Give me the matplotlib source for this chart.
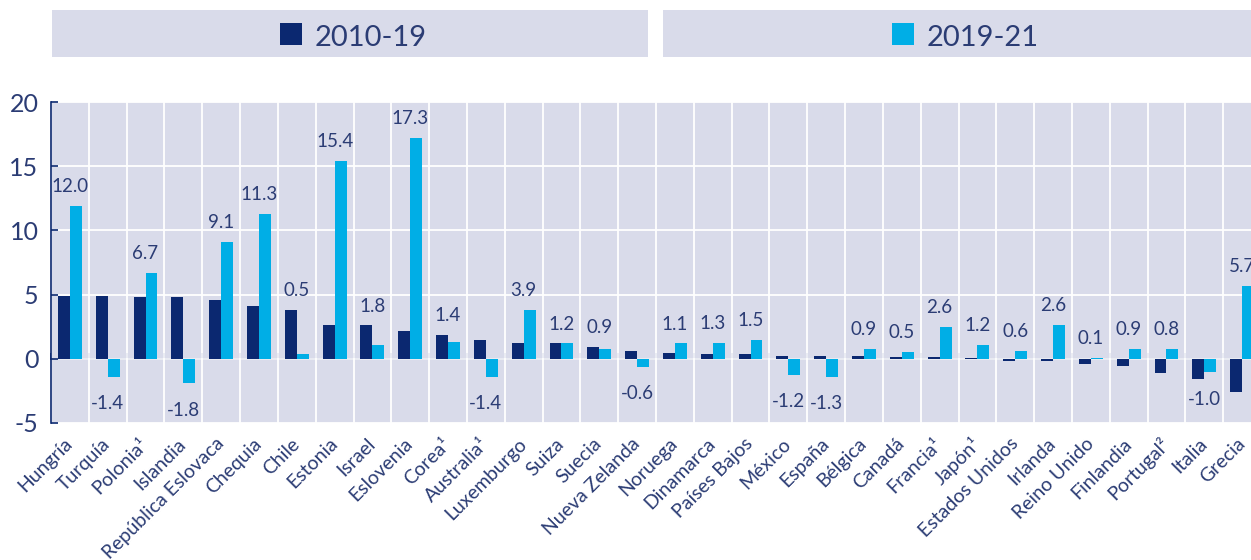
import matplotlib
matplotlib.use("Agg")
import matplotlib.pyplot as plt
from matplotlib.patches import Rectangle
import numpy as np

countries = ["Hungría", "Turquía", "Polonia¹", "Islandia", "República Eslovaca",
             "Chequia", "Chile", "Estonia", "Israel", "Eslovenia", "Corea¹",
             "Australia¹", "Luxemburgo", "Suiza", "Suecia", "Nueva Zelanda",
             "Noruega", "Dinamarca", "Países Bajos", "México", "España",
             "Bélgica", "Canadá", "Francia¹", "Japón¹", "Estados Unidos",
             "Irlanda", "Reino Unido", "Finlandia", "Portugal²", "Italia", "Grecia"]
series_names = ["2010-19", "2019-21"]
v_2010_19 = [4.9, 4.9, 4.8, 4.8, 4.6, 4.1, 3.8, 2.65, 2.6, 2.2, 1.85, 1.5,
             1.2, 1.2, 0.95, 0.6, 0.45, 0.4, 0.4, 0.25, 0.25, 0.2, 0.15, 0.15,
             0.08, -0.2, -0.2, -0.4, -0.55, -1.1, -1.6, -2.55]
v_2019_21 = [11.9, -1.4, 6.7, -1.9, 9.1, 11.3, 0.4, 15.4, 1.1, 17.2, 1.3, -1.4,
             3.8, 1.2, 0.8, -0.6, 1.2, 1.25, 1.5, -1.25, -1.4, 0.8, 0.5, 2.5,
             1.1, 0.6, 2.65, 0.1, 0.8, 0.8, -1.05, 5.7]
labels_2019_21 = ["12.0", "-1.4", "6.7", "-1.8", "9.1", "11.3", "0.5", "15.4",
                  "1.8", "17.3", "1.4", "-1.4", "3.9", "1.2", "0.9", "-0.6",
                  "1.1", "1.3", "1.5", "-1.2", "-1.3", "0.9", "0.5", "2.6",
                  "1.2", "0.6", "2.6", "0.1", "0.9", "0.8", "-1.0", "5.7"]
yticks = [-5, 0, 5, 10, 15, 20]

NAVY = "#0b2870"
CYAN = "#00aee6"
BG = "#d9dbea"
TXT = "#2b3c74"
FW = 'normal'

plt.rcParams['font.family'] = ['Lato', 'DejaVu Sans']

W, H = 1251, 560
fig = plt.figure(figsize=(W / 100, H / 100), dpi=100)
axL, axR, axT, axB = 51, 1261, 102, 423
ax = fig.add_axes([axL / W, 1 - axB / H, (axR - axL) / W, (axB - axT) / H])
ax.set_facecolor(BG)

x = np.arange(len(countries))
bw = 0.315
ax.bar(x - bw / 2, v_2010_19, bw, color=NAVY, zorder=3, label=series_names[0])
ax.bar(x + bw / 2, v_2019_21, bw, color=CYAN, zorder=3, label=series_names[1])

ax.set_xlim(-0.5, len(countries) - 0.5)
ax.set_ylim(-5, 20)

for xi, a, b, lab in zip(x, v_2010_19, v_2019_21, labels_2019_21):
    if b >= 0:
        ax.annotate(lab, (xi, max(a, b, 0)), xytext=(0, 10), textcoords='offset points',
                    ha='center', va='baseline', fontsize=13.5, color=TXT,
                    fontweight=FW, annotation_clip=False, zorder=5)
    else:
        ax.annotate(lab, (xi, b), xytext=(0, -23.5), textcoords='offset points',
                    ha='center', va='baseline', fontsize=13.5, color=TXT,
                    fontweight=FW, annotation_clip=False, zorder=5)

# axes styling
for s in ['top', 'right', 'bottom']:
    ax.spines[s].set_visible(False)
ax.spines['left'].set_color(NAVY)
ax.spines['left'].set_linewidth(1.2)

ax.set_yticks(yticks)
ax.set_yticklabels([str(v) for v in yticks], fontsize=18, color=TXT, fontweight=FW)
ax.tick_params(axis='y', direction='in', length=5, width=1.2, color=NAVY, pad=9)

ax.set_xticks(x)
ax.set_xticklabels(countries, rotation=45, ha='right', va='center',
                   rotation_mode='anchor', fontsize=14, color=TXT, fontweight=FW)
ax.tick_params(axis='x', which='major', length=0, pad=13)
ax.set_xticks(np.arange(-0.5, len(countries), 1), minor=True)
ax.tick_params(axis='x', which='minor', length=0)

ax.set_axisbelow(True)
ax.grid(which='minor', axis='x', color='white', linewidth=1.3)
ax.grid(which='major', axis='y', color='white', linewidth=1.3)

# zero line with small ticks at category boundaries
sec = ax.secondary_xaxis(5 / 25)
sec.spines['bottom'].set_color(NAVY)
sec.spines['bottom'].set_linewidth(1.3)
sec.set_xticks(np.arange(-0.5, len(countries), 1))
sec.tick_params(axis='x', direction='in', length=4.5, width=1.2, color=NAVY,
                labelbottom=False)

# header legend boxes
boxes = [(52, 648), (663, 1261)]
for (x0, x1), name, col in zip(boxes, series_names, [NAVY, CYAN]):
    fig.patches.append(Rectangle((x0 / W, 1 - 57 / H), (x1 - x0) / W, 47 / H,
                                 transform=fig.transFigure, facecolor=BG,
                                 edgecolor='none', zorder=0))
    cx = (x0 + x1) / 2
    fig.patches.append(Rectangle(((cx - 70) / W, 1 - 45 / H), 22 / W, 22 / H,
                                 transform=fig.transFigure, facecolor=col,
                                 edgecolor='none', zorder=1))
    fig.text((cx - 35) / W, 1 - 46 / H, name, ha='left', va='baseline',
             fontsize=21, color=TXT, fontweight=FW)

fig.savefig("out.png", dpi=100)
